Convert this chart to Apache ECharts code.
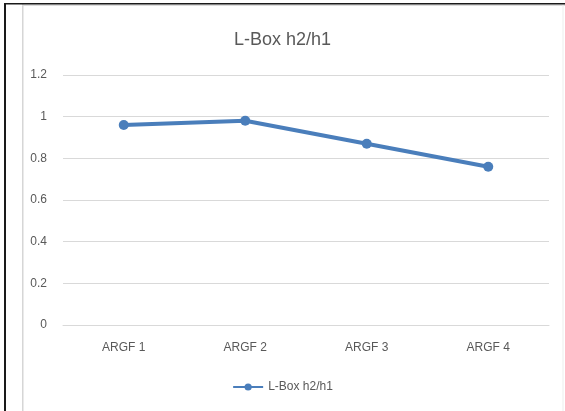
<!DOCTYPE html>
<html>
<head>
<meta charset="utf-8">
<script src="https://cdn.jsdelivr.net/npm/echarts@6/dist/echarts.min.js"></script>
<style>
html,body{margin:0;padding:0;background:#fff;}
#chart{width:565px;height:411px;}
</style>
</head>
<body>
<div id="chart"></div>
<script>
const categories = ['ARGF 1', 'ARGF 2', 'ARGF 3', 'ARGF 4'];
const seriesName = 'L-Box h2/h1';
const values = [0.96, 0.98, 0.87, 0.76];
const yTicks = [0, 0.2, 0.4, 0.6, 0.8, 1, 1.2];

const chart = echarts.init(document.getElementById('chart'), null, {renderer: 'canvas'});
const font = '"Liberation Sans", Arial, sans-serif';
chart.setOption({
  backgroundColor: '#ffffff',
  animation: false,
  title: {
    text: 'L-Box h2/h1',
    left: 'center',
    top: 26,
    textStyle: {color: '#595959', fontSize: 18, fontWeight: 'normal', fontFamily: font}
  },
  legend: {
    data: [seriesName],
    bottom: 13,
    left: 'center',
    itemWidth: 30,
    itemHeight: 9,
    itemGap: 2,
    textStyle: {color: '#595959', fontSize: 12, fontFamily: font}
  },
  grid: {left: 63, right: 16, top: 75, bottom: 86, containLabel: false},
  xAxis: {
    type: 'category',
    data: categories,
    boundaryGap: true,
    axisLine: {show: true, lineStyle: {color: '#d9d9d9', width: 1}},
    axisTick: {show: false},
    axisLabel: {color: '#595959', fontSize: 12, margin: 17, fontFamily: font}
  },
  yAxis: {
    type: 'value',
    min: yTicks[0],
    max: yTicks[yTicks.length - 1],
    interval: 0.2,
    axisLine: {show: false},
    axisTick: {show: false},
    splitLine: {lineStyle: {color: '#d9d9d9', width: 1}},
    axisLabel: {
      color: '#595959', fontSize: 12, margin: 16, fontFamily: font,
      formatter: function (v) { return String(Math.round(v * 10) / 10); }
    }
  },
  series: [{
    name: seriesName,
    type: 'line',
    data: values,
    symbol: 'circle',
    symbolSize: 10,
    lineStyle: {color: '#4a7ebb', width: 4},
    itemStyle: {color: '#4a7ebb'}
  }],
  graphic: [
    {type: 'rect', shape: {x: 22, y: 4, width: 1.5, height: 407}, style: {fill: '#d6d6d6'}, silent: true},
    {type: 'rect', shape: {x: 22, y: 4.5, width: 543, height: 1.5}, style: {fill: '#dcdcdc'}, silent: true},
    {type: 'rect', shape: {x: 562.5, y: 5, width: 1, height: 406}, style: {fill: '#eeeeee'}, silent: true},
    {type: 'rect', shape: {x: 4, y: 3, width: 2, height: 408}, style: {fill: '#1a1a1a'}, silent: true},
    {type: 'rect', shape: {x: 4, y: 3, width: 561, height: 1.5}, style: {fill: '#1a1a1a'}, silent: true}
  ]
});
</script>
</body>
</html>
